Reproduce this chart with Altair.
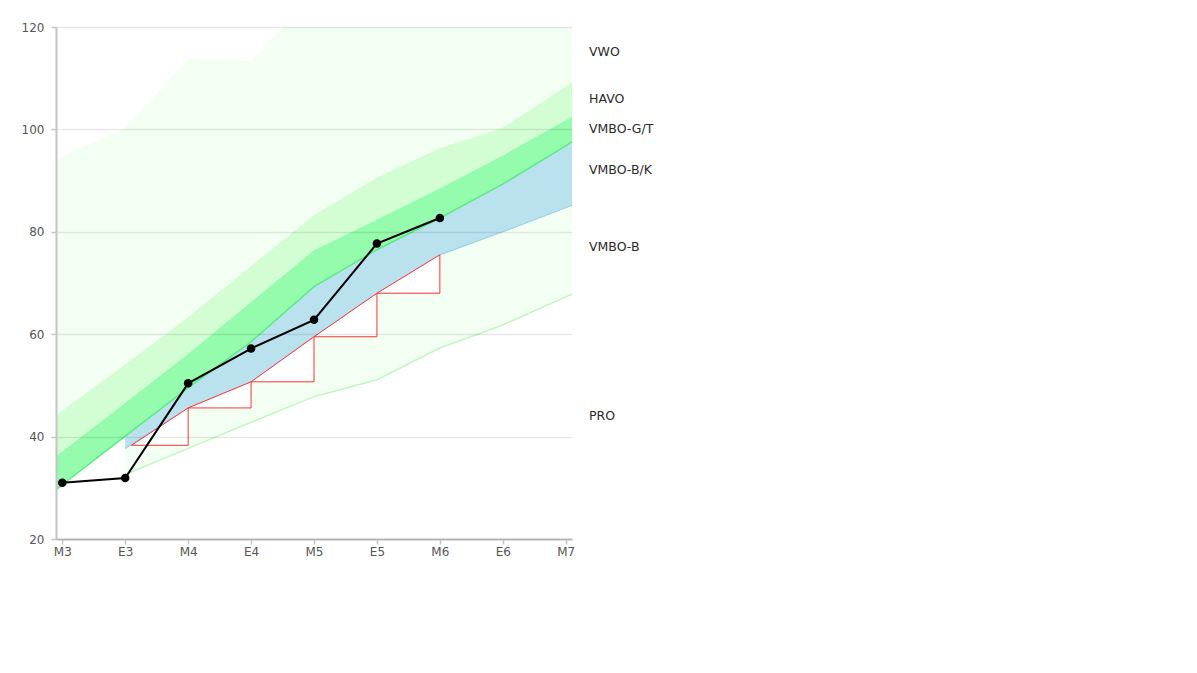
import altair as alt
import pandas as pd

# ---- data ----
stages = ["M3", "E3", "M4", "E4", "M5", "E5", "M6", "E6", "M7"]
y_ticks = [20, 40, 60, 80, 100, 120]

# reference bands (x positions: left edge, M3 .. M7, right edge)
band_x = [-0.1, 0, 1, 2, 3, 4, 5, 6, 7, 8, 8.1]
vwo_upper = [94.0, 94.7, 100.2, 113.7, 113.3, 126.5, 131.0, 135.0, 139.0, 143.0, 143.5]
havo_upper = [44.2, 45.1, 54.1, 63.3, 73.3, 83.3, 90.6, 96.3, 100.3, 108.4, 109.3]
gt_upper = [36.2, 37.1, 46.6, 56.2, 66.3, 76.4, 82.4, 88.5, 94.9, 101.8, 102.5]
gt_lower = [29.6, 30.6, 40.1, 49.5, 58.5, 69.3, 76.5, 82.7, 89.3, 96.8, 97.6]

# bands that start at E3
low_x = [1, 2, 3, 4, 5, 6, 7, 8, 8.1]
bk_lower = [37.7, 45.6, 50.7, 59.5, 68.0, 75.5, 80.0, 84.7, 85.2]
pro_lower = [32.6, 37.7, 42.8, 47.8, 51.1, 57.3, 61.8, 67.3, 67.8]

# red step triangles
tri_x0 = [1.1, 2, 3, 4, 5]
tri_x1 = [2, 3, 4, 5, 6]
tri_y0 = [38.3, 45.6, 50.7, 59.5, 68.0]
tri_y1 = [45.6, 50.7, 59.5, 68.0, 75.5]

# pupil scores
score_x = [0, 1, 2, 3, 4, 5, 6]
scores = [31.0, 31.9, 50.4, 57.2, 62.8, 77.7, 82.7]

# level labels
level_names = ["VWO", "HAVO", "VMBO-G/T", "VMBO-B/K", "VMBO-B", "PRO"]
level_pos = [115.1, 105.9, 100.1, 92.1, 77.0, 44.0]
label_x = 8.37

# ---- tables ----
def band(xs, lo, hi):
    return pd.DataFrame({"x": xs, "lo": lo, "hi": hi})

n_low = len(low_x)
gt_lower_low = gt_lower[-n_low:]

df_vwo = band(band_x, havo_upper, vwo_upper)
df_havo = band(band_x, gt_upper, havo_upper)
df_gt = band(band_x, gt_lower, gt_upper)
df_bk = band(low_x, bk_lower, gt_lower_low)
df_b = band(low_x, pro_lower, bk_lower)

tri_rows = []
for i in range(len(tri_x0)):
    tri_rows.append({"t": i, "x": tri_x0[i], "lo": tri_y0[i], "hi": tri_y0[i]})
    tri_rows.append({"t": i, "x": tri_x1[i], "lo": tri_y1[i], "hi": tri_y0[i]})
df_tri = pd.DataFrame(tri_rows)

df_score = pd.DataFrame({"x": score_x, "lo": scores})
df_lab = pd.DataFrame({"x": [label_x] * len(level_names), "lo": level_pos, "name": level_names})

FONT = "DejaVu Sans"
label_expr = "[" + ",".join("'%s'" % s for s in stages) + "][datum.value]"

x_enc = alt.X(
    "x:Q",
    scale=alt.Scale(domain=[-0.1, 8.1], nice=False, zero=False),
    axis=alt.Axis(values=list(range(len(stages))), labelExpr=label_expr, grid=False,
                  title=None, domainColor="#c4c4c4", domainWidth=2, tickColor="#c4c4c4",
                  tickWidth=1.5, tickSize=5, labelColor="#555", labelFont=FONT,
                  labelFontSize=12, labelPadding=2),
)
y_scale = alt.Scale(domain=[20, 120], nice=False, zero=False)
y_axis = alt.Axis(values=y_ticks, grid=True, gridColor="#000000", gridOpacity=0.09,
                  gridWidth=1.5, title=None, domainColor="#c4c4c4", domainWidth=2,
                  tickColor="#c4c4c4", tickWidth=1.5, tickSize=5, labelColor="#555",
                  labelFont=FONT, labelFontSize=12, labelPadding=7, zindex=1)
y_enc = alt.Y("lo:Q", scale=y_scale, axis=y_axis)


def area(df, color, clip=False):
    return alt.Chart(df).mark_area(color=color, opacity=1, clip=clip).encode(
        x=x_enc, y=y_enc, y2="hi:Q")


vwo = area(df_vwo, "#f2fff2", clip=True)
havo = area(df_havo, "#d3fdd3")
gt = area(df_gt, "#95fbad")
bk = area(df_bk, "#b9e2ee")
bb = area(df_b, "#f4fff4")

gt_edge = alt.Chart(df_gt).mark_line(color="#5aec82", strokeWidth=1.5).encode(x=x_enc, y=y_enc)
bk_edge = alt.Chart(df_bk).mark_line(color="#97d2e6", strokeWidth=1.2).encode(x=x_enc, y=y_enc)
pro_line = alt.Chart(df_b).mark_line(color="#c2f6c2", strokeWidth=1.5).encode(x=x_enc, y=y_enc)

tri = alt.Chart(df_tri).mark_area(fill="white", stroke="#ff3333", strokeWidth=1,
                                  opacity=1).encode(
    x=x_enc, y=y_enc, y2="hi:Q", detail="t:N")

score_line = alt.Chart(df_score).mark_line(color="black", strokeWidth=2).encode(x=x_enc, y=y_enc)
score_pts = alt.Chart(df_score).mark_circle(color="black", size=72, opacity=1).encode(x=x_enc, y=y_enc)

labels = alt.Chart(df_lab).mark_text(align="left", baseline="middle", font=FONT,
                                     fontSize=12.5, color="#2a2a2a").encode(
    x=x_enc, y=y_enc, text="name:N")

chart = alt.layer(
    vwo, havo, gt, bk, bb, gt_edge, bk_edge, pro_line, tri, score_line, score_pts, labels
).properties(
    width=516, height=512,
    autosize=alt.AutoSizeParams(type="none"),
    padding={"left": 48, "top": 19, "right": 600, "bottom": 120},
    background="white",
).configure_view(stroke=None)

chart.save("out.html", embed_options={"renderer": "svg", "actions": False})
